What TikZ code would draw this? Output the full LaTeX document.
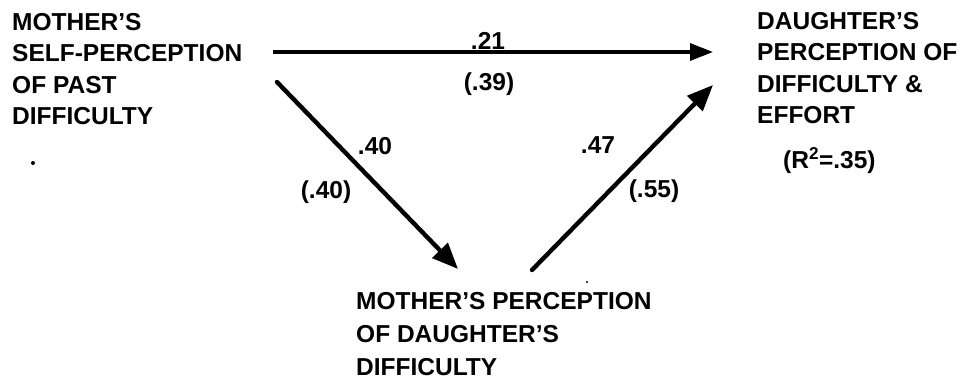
\documentclass[tikz,border=0pt]{standalone}
\usepackage{fontspec}
\setmainfont{Liberation Sans}
\usetikzlibrary{arrows.meta}
\begin{document}
\begin{tikzpicture}[x=1pt,y=-1pt,
  blocktext/.style={anchor=north west,inner sep=0pt,align=left,
    font=\fontsize{24.5}{31.5}\selectfont\bfseries},
  coef/.style={inner sep=0pt,font=\fontsize{24.5}{28}\selectfont\bfseries},
  path/.style={line width=4.4pt,-{Triangle[length=26pt,width=21pt]}}]
\useasboundingbox (0,0) rectangle (961,383);
\node[blocktext] (msp) at (12,13) {MOTHER'S\\SELF-PERCEPTION\\OF PAST\\DIFFICULTY};
\node[blocktext] (dpd) at (757,12) {DAUGHTER'S\\PERCEPTION OF\\DIFFICULTY \&\\EFFORT};
\node[blocktext,font=\fontsize{24.5}{33}\selectfont\bfseries] (mpd) at (356,292) {MOTHER'S PERCEPTION\\OF DAUGHTER'S\\DIFFICULTY};
\node[coef,anchor=west] (r2) at (783,161) {(R\textsuperscript{2}=.35)};

\coordinate (h1) at (273,52);
\coordinate (h2) at (713,52);
\coordinate (d1) at (277,82);
\coordinate (d2) at (458,269);
\coordinate (u1) at (532,270);
\coordinate (u2) at (713,85);

\draw[path,line width=3.4pt,-{Triangle[length=23pt,width=17pt]}] (h1) -- (h2);
\draw[path,line cap=round] (d1) -- (d2);
\draw[path,line cap=round] (u1) -- (u2);

\node[coef] (c21) at (488,41) {.21};
\node[coef] (c39) at (489,84) {(.39)};
\node[coef] (c40a) at (375,146) {.40};
\node[coef] (c40b) at (326,192) {(.40)};
\node[coef] (c47) at (598,145) {.47};
\node[coef] (c55) at (654,191) {(.55)};

\fill (33,163) circle (2pt);
\fill (587,282) circle (1.2pt);
\end{tikzpicture}
\end{document}
